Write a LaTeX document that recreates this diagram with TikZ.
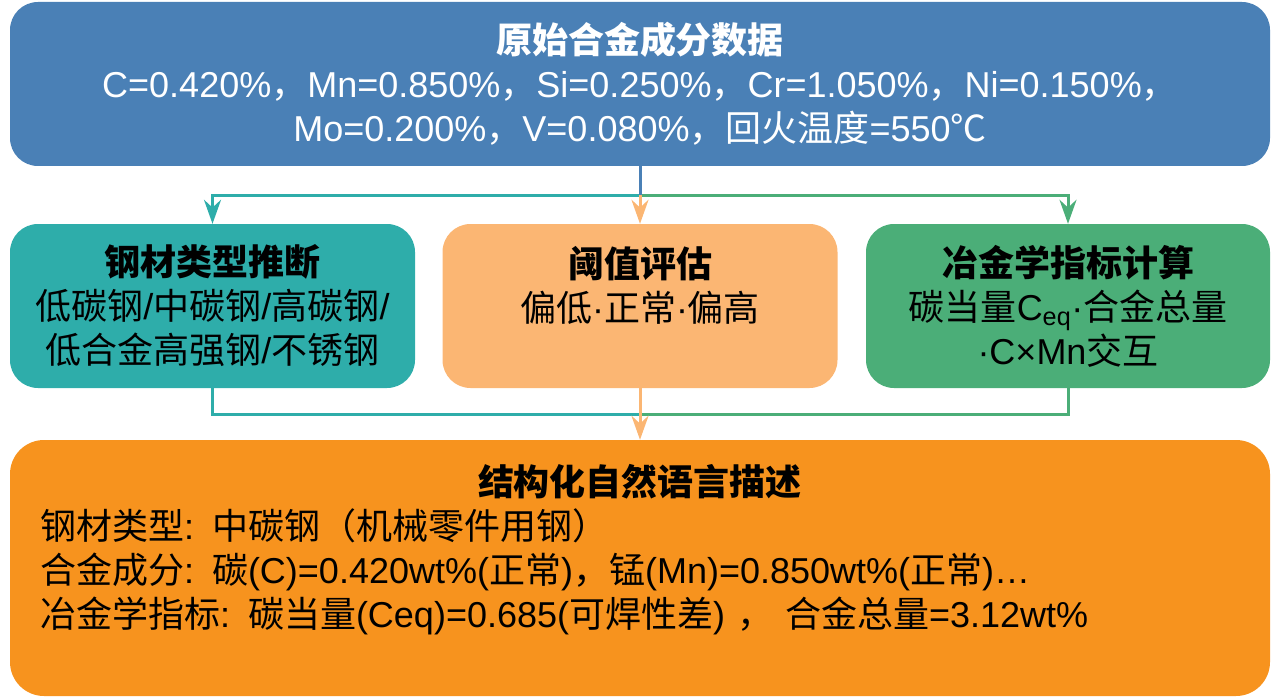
\documentclass[tikz,border=0pt]{standalone}
\usepackage{fontspec}
\setmainfont{Liberation Sans}
\newfontfamily\cjk{Noto Sans CJK SC}
\newcommand{\zh}[1]{{\cjk #1}}
\usetikzlibrary{arrows.meta, positioning, calc}
\definecolor{rawblue}{RGB}{74,128,182}
\definecolor{typeteal}{RGB}{46,173,170}
\definecolor{threshorange}{RGB}{251,182,115}
\definecolor{metalgreen}{RGB}{75,174,120}
\definecolor{descorange}{RGB}{247,147,30}
\tikzstyle{box} = [rectangle, rounded corners=28pt, draw=none, text centered, align=center, font=\fontsize{36}{44}\selectfont]
\tikzstyle{rawbox} = [box, minimum width=1260pt, minimum height=164pt, fill=rawblue, text=white]
\tikzstyle{stepbox} = [box, minimum height=164pt, text=black]
\tikzstyle{descbox} = [box, minimum width=1260pt, minimum height=256pt, fill=descorange, text width=1200pt, align=left, rounded corners=34pt]
\tikzstyle{link} = [line width=3pt]
\tikzstyle{arrow} = [link, -{Stealth[length=24pt,width=17pt]}]

\begin{document}
\begin{tikzpicture}[x=1pt,y=-1pt]
    \useasboundingbox (0,0) rectangle (1280,698);
    \node[rawbox] (raw) at (640,84) {\textbf{\zh{原始合金成分数据}}\\C=0.420\%\zh{，}Mn=0.850\%\zh{，}Si=0.250\%\zh{，}Cr=1.050\%\zh{，}Ni=0.150\%\zh{，}\\Mo=0.200\%\zh{，}V=0.080\%\zh{，回火温度}=550\zh{℃}};
    \node[stepbox, minimum width=405pt, fill=typeteal] (typeinf) at (212.5,306) {\textbf{\zh{钢材类型推断}}\\\zh{低碳钢}/\zh{中碳钢}/\zh{高碳钢}/\\\zh{低合金高强钢}/\zh{不锈钢}};
    \node[stepbox, minimum width=395pt, fill=threshorange] (thresh) at (640,306) {\textbf{\zh{阈值评估}}\\\zh{偏低}·\zh{正常}·\zh{偏高}\\\mbox{}};
    \node[stepbox, minimum width=404pt, fill=metalgreen] (metal) at (1068,306) {\textbf{\zh{冶金学指标计算}}\\\zh{碳当量}C\textsubscript{eq}·\zh{合金总量}\\·C×Mn\zh{交互}};
    \node[descbox] (desc) at (640,568) {\makebox[\linewidth]{\textbf{\zh{结构化自然语言描述}}}\\
        \zh{钢材类型}: \zh{中碳钢（机械零件用钢）}\\
        \zh{合金成分}: \zh{碳}(C)=0.420wt\%(\zh{正常})\zh{，锰}(Mn)=0.850wt\%(\zh{正常})…\\
        \zh{冶金学指标}: \zh{碳当量}(Ceq)=0.685(\zh{可焊性差}) \zh{，} \zh{合金总量}=3.12wt\%\\
        \mbox{}};

    \coordinate (split) at (640,195);
    \coordinate (merge) at (640,414);

    \draw[arrow, typeteal] (split) -- (split -| typeinf.north) -- (typeinf.north);
    \draw[arrow, metalgreen] (split) -- (split -| metal.north) -- (metal.north);
    \draw[arrow, threshorange] (split) -- (thresh.north);
    \draw[link, rawblue] (raw.south) -- (split);
    \draw[link, typeteal] (typeinf.south) -- (typeinf.south |- merge) -- (merge);
    \draw[link, metalgreen] (metal.south) -- (metal.south |- merge) -- (merge);
    \draw[arrow, threshorange] (thresh.south) -- (desc.north);
\end{tikzpicture}
\end{document}
